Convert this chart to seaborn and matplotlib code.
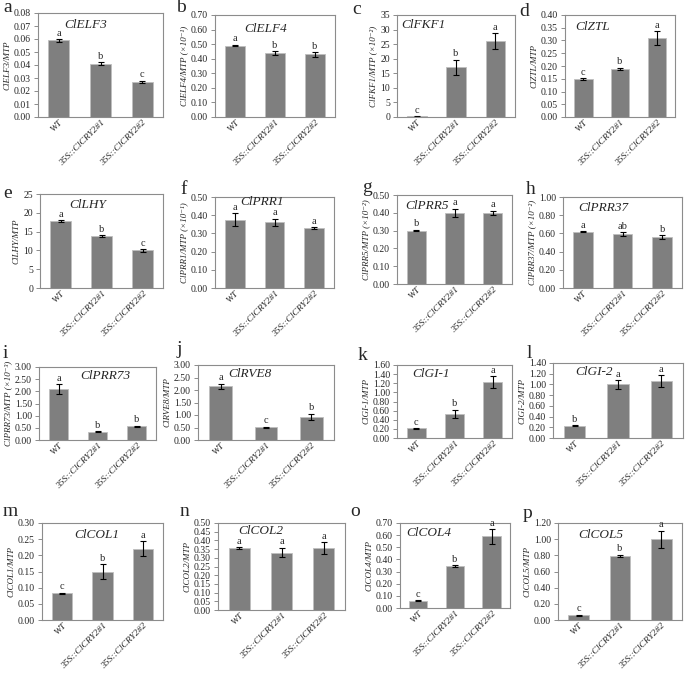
import numpy as np
import seaborn as sns
import matplotlib.pyplot as plt
from matplotlib.ticker import FixedLocator, FormatStrFormatter

sns.set_style("white")
plt.rcParams['font.family'] = ['Liberation Serif', 'DejaVu Serif']

categories = ["WT", "35S::ClCRY2#1", "35S::ClCRY2#2"]

# means, errors, significance letters per gene
elf3_mean = [0.059, 0.041, 0.027]
elf3_err = [0.001, 0.001, 0.001]
elf3_sig = ["a", "b", "c"]
elf4_mean = [0.49, 0.44, 0.43]
elf4_err = [0.006, 0.012, 0.015]
elf4_sig = ["a", "b", "b"]
fkf1_mean = [0.2, 17.0, 26.0]
fkf1_err = [0.1, 2.6, 2.7]
fkf1_sig = ["c", "b", "a"]
ztl_mean = [0.15, 0.19, 0.31]
ztl_err = [0.003, 0.004, 0.027]
ztl_sig = ["c", "b", "a"]
lhy_mean = [17.8, 13.8, 10.0]
lhy_err = [0.3, 0.3, 0.4]
lhy_sig = ["a", "b", "c"]
prr1_mean = [0.375, 0.36, 0.33]
prr1_err = [0.035, 0.02, 0.005]
prr1_sig = ["a", "a", "a"]
prr5_mean = [0.30, 0.40, 0.40]
prr5_err = [0.005, 0.022, 0.012]
prr5_sig = ["b", "a", "a"]
prr37_mean = [0.62, 0.59, 0.56]
prr37_err = [0.005, 0.022, 0.022]
prr37_sig = ["a", "ab", "b"]
prr73_mean = [2.10, 0.33, 0.56]
prr73_err = [0.20, 0.02, 0.03]
prr73_sig = ["a", "b", "b"]
rve8_mean = [2.15, 0.52, 0.93]
rve8_err = [0.10, 0.02, 0.12]
rve8_sig = ["a", "c", "b"]
gi1_mean = [0.21, 0.53, 1.23]
gi1_err = [0.01, 0.09, 0.13]
gi1_sig = ["c", "b", "a"]
gi2_mean = [0.23, 1.00, 1.06]
gi2_err = [0.01, 0.08, 0.11]
gi2_sig = ["b", "a", "a"]
col1_mean = [0.083, 0.15, 0.22]
col1_err = [0.002, 0.023, 0.023]
col1_sig = ["c", "b", "a"]
col2_mean = [0.355, 0.33, 0.355]
col2_err = [0.005, 0.028, 0.035]
col2_sig = ["a", "a", "a"]
col4_mean = [0.06, 0.345, 0.59]
col4_err = [0.005, 0.008, 0.06]
col4_sig = ["c", "b", "a"]
col5_mean = [0.06, 0.795, 1.00]
col5_err = [0.005, 0.015, 0.105]
col5_sig = ["c", "b", "a"]

# letter, gene, ylabel suffix, data, y axis max and step, tick format
panels = [
    ("a", "ClELF3", "", elf3_mean, elf3_err, elf3_sig, 0.08, 0.01, "%.2f"),
    ("b", "ClELF4", " (×10⁻¹)", elf4_mean, elf4_err, elf4_sig, 0.70, 0.10, "%.2f"),
    ("c", "ClFKF1", " (×10⁻²)", fkf1_mean, fkf1_err, fkf1_sig, 35, 5, "%d"),
    ("d", "ClZTL", "", ztl_mean, ztl_err, ztl_sig, 0.40, 0.05, "%.2f"),
    ("e", "ClLHY", "", lhy_mean, lhy_err, lhy_sig, 25, 5, "%d"),
    ("f", "ClPRR1", " (×10⁻¹)", prr1_mean, prr1_err, prr1_sig, 0.50, 0.10, "%.2f"),
    ("g", "ClPRR5", " (×10⁻²)", prr5_mean, prr5_err, prr5_sig, 0.50, 0.10, "%.2f"),
    ("h", "ClPRR37", " (×10⁻²)", prr37_mean, prr37_err, prr37_sig, 1.00, 0.20, "%.2f"),
    ("i", "ClPRR73", " (×10⁻³)", prr73_mean, prr73_err, prr73_sig, 3.00, 0.50, "%.2f"),
    ("j", "ClRVE8", "", rve8_mean, rve8_err, rve8_sig, 3.00, 0.50, "%.2f"),
    ("k", "ClGI-1", "", gi1_mean, gi1_err, gi1_sig, 1.60, 0.20, "%.2f"),
    ("l", "ClGI-2", "", gi2_mean, gi2_err, gi2_sig, 1.40, 0.20, "%.2f"),
    ("m", "ClCOL1", "", col1_mean, col1_err, col1_sig, 0.30, 0.05, "%.2f"),
    ("n", "ClCOL2", "", col2_mean, col2_err, col2_sig, 0.50, 0.05, "%.2f"),
    ("o", "ClCOL4", "", col4_mean, col4_err, col4_sig, 0.70, 0.10, "%.2f"),
    ("p", "ClCOL5", "", col5_mean, col5_err, col5_sig, 1.20, 0.20, "%.2f"),
]

# layout in pixels: axes box (l, t, r, b), panel letter (x, y), gene text (axes fraction)
layout = [
    ((38, 13, 163, 117), (3, 7), (0.21, 0.88)),
    ((215, 15, 335, 117), (176, 7), (0.24, 0.86)),
    ((397, 15, 515, 117), (352, 10), (0.04, 0.9)),
    ((565, 15, 675, 117), (519, 12), (0.09, 0.88)),
    ((40, 194, 163, 288), (3, 193), (0.24, 0.88)),
    ((215, 197, 334, 288), (180, 190), (0.21, 0.945)),
    ((397, 195, 512, 284), (362, 187), (0.07, 0.88)),
    ((563, 197, 682, 288), (526, 190), (0.13, 0.88)),
    ((39, 367, 156, 440), (3, 353), (0.35, 0.88)),
    ((198, 365, 334, 440), (176, 350), (0.22, 0.88)),
    ((397, 365, 512, 438), (358, 355), (0.13, 0.88)),
    ((553, 363, 683, 438), (527, 353), (0.17, 0.88)),
    ((42, 523, 163, 620), (3, 512), (0.27, 0.88)),
    ((218, 523, 345, 610), (180, 512), (0.16, 0.91)),
    ((400, 523, 510, 608), (350, 512), (0.06, 0.88)),
    ((558, 523, 682, 620), (523, 513), (0.16, 0.88)),
]

W, H = 685, 673
fig = plt.figure(figsize=(W / 100, H / 100), dpi=100)
edge = "#8c8c8c"

for (letter, gene, suffix, mean, err, sig, ymax, ystep, fmt), (box, lpos, gpos) in zip(panels, layout):
    l, t, r, b = box
    ax = fig.add_axes([l / W, 1 - b / H, (r - l) / W, (b - t) / H])
    sns.barplot(x=categories, y=mean, color="#7f7f7f", width=0.5,
                saturation=1, edgecolor="#bfbfbf", linewidth=0.6, ax=ax)
    ax.errorbar(range(3), mean, yerr=err, fmt="none", ecolor="black",
                elinewidth=0.8, capsize=2, capthick=0.8)
    for i, s in enumerate(sig):
        ax.annotate(s, (i, mean[i] + err[i]), xytext=(0, 1),
                    textcoords="offset points", ha="center", va="bottom",
                    fontsize=7.5)
    ax.set_xlim(-0.5, 2.5)
    ax.set_ylim(0, ymax)
    ax.yaxis.set_major_locator(FixedLocator(np.arange(0, ymax + ystep / 2, ystep)))
    ax.yaxis.set_major_formatter(FormatStrFormatter(fmt))
    ax.xaxis.set_minor_locator(FixedLocator([-0.5, 0.5, 1.5, 2.5]))
    ax.tick_params(axis="x", which="major", length=0, pad=1)
    ax.tick_params(axis="x", which="minor", length=3, color=edge, width=0.7, direction="out")
    ax.tick_params(axis="y", length=3, color=edge, width=0.7, direction="out",
                   labelsize=7, pad=2, left=True)
    ax.set_xticks(range(3))
    ax.set_xticklabels(categories, rotation=45, ha="right", rotation_mode="anchor",
                       fontsize=6.8, fontstyle="italic")
    ax.set_ylabel(gene + "/MTP" + suffix, fontsize=6.5, fontstyle="italic", labelpad=2)
    for sp in ax.spines.values():
        sp.set_color(edge)
        sp.set_linewidth(0.8)
    ax.text(gpos[0], gpos[1], gene, transform=ax.transAxes, fontsize=9.5,
            fontstyle="italic", ha="left", va="center")
    fig.text(lpos[0] / W, 1 - lpos[1] / H, letter, fontsize=14, ha="left", va="center")

fig.savefig("out.png", dpi=100, facecolor="white")
